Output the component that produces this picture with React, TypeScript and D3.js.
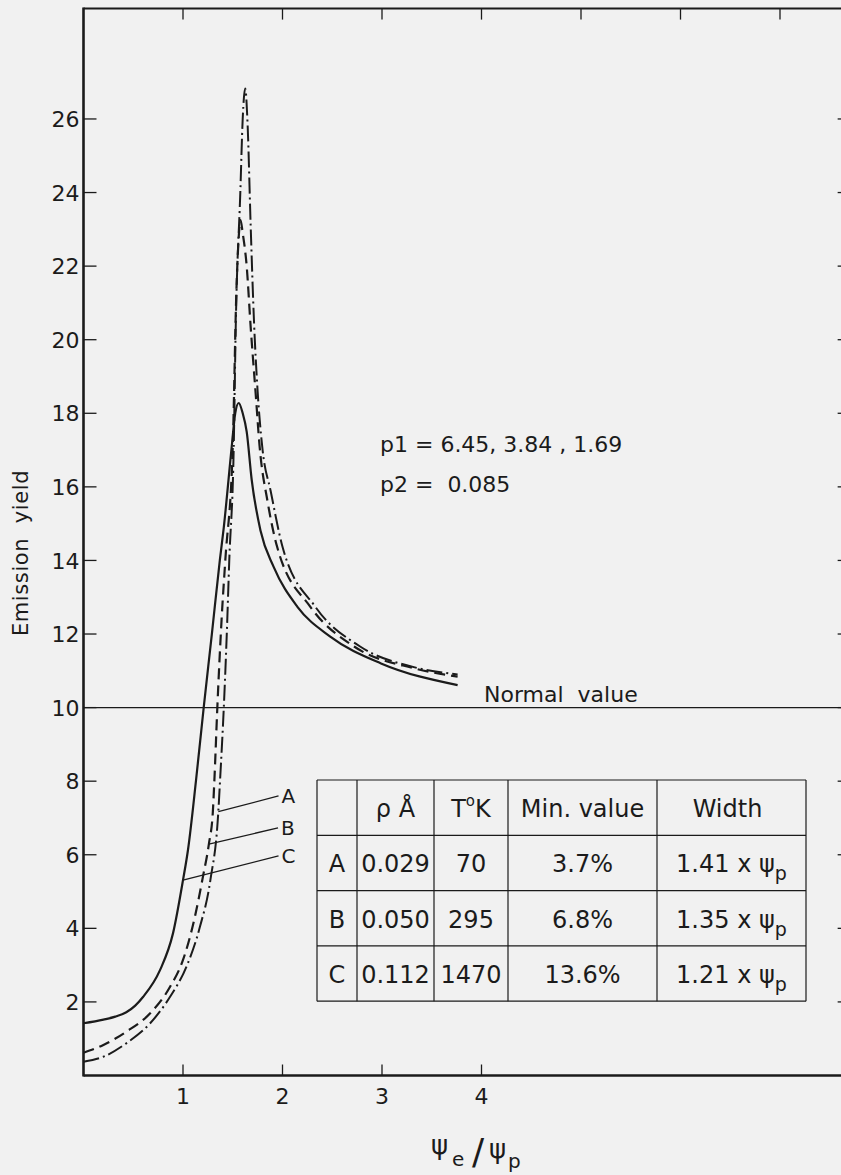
import React from 'react';
import * as d3 from 'd3';

const W = 841;
const H = 1175;

// curve A (dash-dot), rho = 0.029
const psiA = [0, 0.2, 0.43, 0.67, 0.87, 1.035, 1.17, 1.275, 1.355, 1.372, 1.41, 1.44, 1.465, 1.51, 1.53, 1.576, 1.6, 1.625, 1.65, 1.68, 1.715, 1.75, 1.8, 1.88, 2.0, 2.33, 2.78, 3.32, 3.76];
const yieldA = [0.375, 0.51, 0.875, 1.42, 2.14, 2.96, 4.04, 5.31, 7.17, 8, 10, 12, 14, 17.1, 20.35, 24, 26, 26.83, 25.8, 23.1, 20.4, 18.6, 17.0, 15.9, 14.37, 12.74, 11.66, 11.1, 10.9];

// curve B (dashed), rho = 0.050
const psiB = [0, 0.2, 0.43, 0.67, 0.87, 1.0, 1.12, 1.2, 1.26, 1.3, 1.315, 1.345, 1.39, 1.425, 1.5, 1.536, 1.558, 1.578, 1.6, 1.64, 1.68, 1.73, 1.77, 1.85, 1.946, 2.28, 2.72, 3.32, 3.76];
const yieldB = [0.62, 0.83, 1.19, 1.69, 2.41, 3.14, 4.32, 5.4, 6.29, 7.17, 8, 10, 12.5, 14, 17.1, 21.26, 22.7, 23.25, 22.9, 22.0, 20.35, 18.55, 17.1, 15.6, 14.37, 12.74, 11.66, 11.07, 10.84];

// curve C (solid), rho = 0.112
const psiC = [0, 0.2, 0.32, 0.43, 0.52, 0.6, 0.77, 0.9, 1.0, 1.05, 1.13, 1.208, 1.29, 1.37, 1.41, 1.49, 1.525, 1.56, 1.6, 1.64, 1.69, 1.78, 1.91, 2.15, 2.48, 2.99, 3.76];
const yieldC = [1.42, 1.52, 1.6, 1.72, 1.9, 2.14, 2.87, 3.87, 5.31, 6.13, 8.0, 10, 12, 14, 14.9, 17.1, 18.0, 18.28, 18.0, 17.5, 16.2, 14.8, 13.83, 12.74, 11.93, 11.2, 10.61];

const normalValue = 10;

const yTicks = [2, 4, 6, 8, 10, 12, 14, 16, 18, 20, 22, 24, 26];
const xTicks = [1, 2, 3, 4];
const topTicks = [1, 2, 3, 4, 5, 6, 7];

// pointer labels: curve point -> label end (data units)
const pointerNames = ['A', 'B', 'C'];
const pointerFrom = [[1.355, 7.17], [1.26, 6.29], [1.0, 5.31]];
const pointerTo = [[1.96, 7.6], [1.955, 6.73], [1.96, 5.97]];

const rowNames = ['A', 'B', 'C'];
const rhoVals = ['0.029', '0.050', '0.112'];
const tempVals = ['70', '295', '1470'];
const minVals = ['3.7%', '6.8%', '13.6%'];
const widthVals = ['1.41 x ', '1.35 x ', '1.21 x '];

const FONT = '"DejaVu Sans", Roboto, sans-serif';
const INK = '#1b1b1b';
const PRE = { whiteSpace: 'pre' as const };

export default function App() {
  const x = d3.scaleLinear().domain([0, 7.7]).range([83.5, 83.5 + 7.7 * 99.5]);
  const y = d3.scaleLinear().domain([0, 29]).range([1075.5, 1075.5 - 29 * 36.79]);

  const line = d3.line<[number, number]>()
    .x(d => x(d[0]))
    .y(d => y(d[1]))
    .curve(d3.curveMonotoneX);

  const zip = (a: number[], b: number[]) => a.map((v, i) => [v, b[i]] as [number, number]);

  const left = x(0);
  const right = x(7.7);
  const top = y(29);
  const bottom = y(0);

  const colX = [317, 357, 434, 508, 657, 806];
  const rowY = [780, 835.3, 890.6, 945.9, 1001.2];

  return (
    <svg width={W} height={H} style={{ position: 'absolute', left: 0, top: 0, display: 'block' }}
      fontFamily={FONT}>
      <rect width={W} height={H} fill="#f1f1f1" />

      {/* frame */}
      <line x1={left} x2={right} y1={top} y2={top} stroke={INK} strokeWidth={2} />
      <line x1={right} x2={right} y1={top} y2={bottom} stroke={INK} strokeWidth={2} />
      <line x1={left} x2={left} y1={top - 1} y2={bottom + 1} stroke={INK} strokeWidth={2.6} />
      <line x1={left} x2={right} y1={bottom} y2={bottom} stroke={INK} strokeWidth={2.6} />

      {yTicks.map(t => (
        <g key={'y' + t}>
          <line x1={left} x2={left + 13} y1={y(t)} y2={y(t)} stroke={INK} strokeWidth={1.3} />
          <line x1={right - 12} x2={right} y1={y(t)} y2={y(t)} stroke={INK} strokeWidth={1.3} />
          <text x={left - 4} y={y(t)} dy="0.37em" textAnchor="end" fontSize={22} fill={INK}>{t}</text>
        </g>
      ))}
      {xTicks.map(t => (
        <g key={'x' + t}>
          <line x1={x(t)} x2={x(t)} y1={bottom} y2={bottom - 11} stroke={INK} strokeWidth={1.3} />
          <text x={x(t)} y={bottom + 28} textAnchor="middle" fontSize={22} fill={INK}>{t}</text>
        </g>
      ))}
      {topTicks.map(t => (
        <line key={'t' + t} x1={x(t)} x2={x(t)} y1={top} y2={top + 11} stroke={INK} strokeWidth={1.3} />
      ))}

      {/* normal value */}
      <line x1={left} x2={right} y1={y(normalValue)} y2={y(normalValue)} stroke={INK} strokeWidth={1.1} />
      <text x={484} y={y(normalValue) - 6} fontSize={22} fill={INK} style={PRE}>Normal  value</text>

      {/* curves */}
      <path d={line(zip(psiC, yieldC)) || ''} fill="none" stroke={INK} strokeWidth={2.2} />
      <path d={line(zip(psiB, yieldB)) || ''} fill="none" stroke={INK} strokeWidth={2.2} strokeDasharray="11 6" />
      <path d={line(zip(psiA, yieldA)) || ''} fill="none" stroke={INK} strokeWidth={2} strokeDasharray="16 4 2 4" />

      {/* pointers */}
      {pointerNames.map((n, i) => (
        <g key={'p' + n}>
          <line x1={x(pointerFrom[i][0])} y1={y(pointerFrom[i][1])} x2={x(pointerTo[i][0])} y2={y(pointerTo[i][1])}
            stroke={INK} strokeWidth={1.3} />
          <text x={x(pointerTo[i][0]) + 3} y={y(pointerTo[i][1]) + 7} fontSize={20} fill={INK}>{n}</text>
        </g>
      ))}

      {/* parameters */}
      <text x={380} y={452} fontSize={22} fill={INK} style={PRE}>p1 = 6.45, 3.84 , 1.69</text>
      <text x={380} y={492} fontSize={22} fill={INK} style={PRE}>p2 =  0.085</text>

      {/* axis titles */}
      <text transform="translate(28,553) rotate(-90)" textAnchor="middle" fontSize={21} letterSpacing={0.6} fill={INK} style={PRE}>Emission  yield</text>
      <text x={431} y={1154} fontSize={26} fill={INK}>ψ</text>
      <text x={452} y={1166} fontSize={20} fill={INK}>e</text>
      <text x={472} y={1164} fontSize={36} fill={INK}>/</text>
      <text x={489} y={1158} fontSize={26} fill={INK}>ψ</text>
      <text x={508} y={1168} fontSize={20} fill={INK}>p</text>

      {/* table */}
      <g stroke={INK} strokeWidth={1.2}>
        {rowY.map(r => <line key={'r' + r} x1={colX[0]} x2={colX[5]} y1={r} y2={r} />)}
        {colX.map(c => <line key={'c' + c} x1={c} x2={c} y1={rowY[0]} y2={rowY[4]} />)}
      </g>
      <g fontSize={24} fill={INK} textAnchor="middle">
        <text x={(colX[1] + colX[2]) / 2} y={rowY[0] + 37}>ρ Å</text>
        <text x={(colX[2] + colX[3]) / 2} y={rowY[0] + 37}>T<tspan fontSize={15} dy={-11}>o</tspan><tspan dy={11}>K</tspan></text>
        <text x={(colX[3] + colX[4]) / 2} y={rowY[0] + 37}>Min. value</text>
        <text x={(colX[4] + colX[5]) / 2 - 4} y={rowY[0] + 37}>Width</text>
        {rowNames.map((n, i) => {
          const base = rowY[i + 1] + 37;
          return (
            <g key={'row' + n}>
              <text x={(colX[0] + colX[1]) / 2} y={base}>{n}</text>
              <text x={(colX[1] + colX[2]) / 2} y={base}>{rhoVals[i]}</text>
              <text x={(colX[2] + colX[3]) / 2} y={base}>{tempVals[i]}</text>
              <text x={(colX[3] + colX[4]) / 2} y={base}>{minVals[i]}</text>
              <text x={(colX[4] + colX[5]) / 2} y={base} style={PRE}>{widthVals[i]}<tspan fontSize={24}>ψ</tspan><tspan fontSize={19} dy={8}>p</tspan></text>
            </g>
          );
        })}
      </g>
    </svg>
  );
}
